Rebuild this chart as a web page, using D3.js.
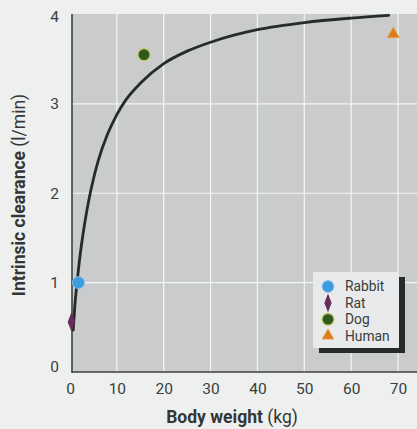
<!DOCTYPE html>
<html><head><meta charset="utf-8">
<script src="https://cdn.jsdelivr.net/npm/d3@7"></script>
<style>
html,body{margin:0;padding:0;background:#eef0ef;}
svg{display:block;}
text{font-family:Roboto,"Liberation Sans",Arial,sans-serif;}
</style></head>
<body>
<script>
const xTicks = [0,10,20,30,40,50,60,70];
const yTicks = [0,1,2,3,4];
const species = ["Rabbit","Rat","Dog","Human"];
const weightKg = [1.8, 0.3, 15.8, 69];
const clearance = [1.0, 0.56, 3.55, 3.78];
const fitWeight = [0.7,1,1.5,2,3,4,5,6,8,10,12,15,20,25,30,40,50,60,68];
const fitClear  = [0.47,0.72,1.0,1.24,1.62,1.92,2.16,2.36,2.66,2.88,3.05,3.23,3.45,3.59,3.69,3.83,3.91,3.96,3.99];
const colors = ["#3d9be0","#6a2a5c","#2e5a20","#d97b1e"];

const W=417,H=429;
const svg=d3.select("body").append("svg").attr("width",W).attr("height",H);
const x=d3.scaleLinear().domain([0,70]).range([70,398]);
const y=d3.scaleLinear().domain([0,4]).range([372,14.5]);
const pL=72, pR=W+5, pT=14, pB=372;

svg.append("rect").attr("x",pL).attr("y",pT).attr("width",pR-pL).attr("height",pB-pT).attr("fill","#c9cbcc");

// grid
svg.append("g").selectAll("line").data(xTicks.filter(d=>d>0)).join("line")
 .attr("x1",d=>x(d)).attr("x2",d=>x(d)).attr("y1",pT).attr("y2",pB)
 .attr("stroke","#f4f5f5").attr("stroke-width",1.2);
svg.append("g").selectAll("line").data(yTicks.filter(d=>d>0&&d<4)).join("line")
 .attr("y1",d=>y(d)).attr("y2",d=>y(d)).attr("x1",pL).attr("x2",pR)
 .attr("stroke","#f4f5f5").attr("stroke-width",1.2);

// axes
const xAxis=svg.append("g").attr("transform",`translate(0,${pB})`)
 .call(d3.axisBottom(x).tickValues(xTicks).tickFormat(d3.format("d")).tickSize(0).tickPadding(9));
xAxis.select(".domain").remove();
xAxis.selectAll("text").attr("font-size",15.5).attr("fill","#3a3d3c").attr("dy","0.85em");
const yAxis=svg.append("g").attr("transform",`translate(${pL},0)`)
 .call(d3.axisLeft(y).tickValues(yTicks).tickFormat(d3.format("d")).tickSize(0).tickPadding(13));
yAxis.select(".domain").remove();
yAxis.selectAll("text").attr("font-size",15.5).attr("fill","#3a3d3c");
yAxis.selectAll(".tick").filter(d=>d===4).select("text").attr("dy","0.45em");
yAxis.selectAll(".tick").filter(d=>d===0).select("text").attr("dy","-0.05em");

svg.append("line").attr("x1",pL).attr("x2",pL).attr("y1",pT).attr("y2",pB+1)
 .attr("stroke","#3d403f").attr("stroke-width",1.6);
svg.append("line").attr("x1",pL).attr("x2",pR).attr("y1",pB).attr("y2",pB)
 .attr("stroke","#3d403f").attr("stroke-width",1.6);

// fitted curve
const fit=fitWeight.map((w,i)=>[w,fitClear[i]]);
svg.append("path").datum(fit)
 .attr("d",d3.line().x(d=>x(d[0])).y(d=>y(d[1])).curve(d3.curveMonotoneX))
 .attr("fill","none").attr("stroke","#262b27").attr("stroke-width",2.8).attr("stroke-linecap","round");

// markers
function marker(g,i,cx,cy,s){
  const sym=[d3.symbolCircle,d3.symbolDiamond,d3.symbolCircle,d3.symbolTriangle][i];
  const sizes=[115*s,75*s,115*s,60*s];
  const p=g.append("path").attr("d",d3.symbol(sym,sizes[i])()).attr("fill",colors[i])
   .attr("transform",i===1?`translate(${cx},${cy}) scale(0.8,1.2)`:`translate(${cx},${cy})`);
  if(i===2) p.attr("stroke","#c9c860").attr("stroke-width",1.2);
  if(i===0) p.attr("stroke","#8cc4ea").attr("stroke-width",0.8);
  if(i===3) p.attr("stroke","#e3a03a").attr("stroke-width",1);
}
const mg=svg.append("g");
species.forEach((s,i)=>marker(mg,i,x(weightKg[i]),y(clearance[i]),1));

// legend
const lg=svg.append("g");
lg.append("rect").attr("x",319).attr("y",277).attr("width",86).attr("height",76).attr("fill","#262b27");
lg.append("rect").attr("x",313).attr("y",272).attr("width",86).attr("height",76).attr("fill","#e8eaeb");
species.forEach((s,i)=>{
  const cy=286.5+i*16.4;
  marker(lg,i,328,cy,0.95);
  lg.append("text").attr("x",345).attr("y",cy).attr("dy","0.36em").attr("font-size",13.8)
   .attr("fill","#3a3d3c").text(s);
});

// axis titles
const yt=svg.append("text").attr("transform","translate(25,195) rotate(-90)")
 .attr("text-anchor","middle").attr("font-size",17.5).attr("fill","#333635");
yt.append("tspan").attr("font-weight","bold").text("Intrinsic clearance ");
yt.append("tspan").text("(l/min)");
const xt=svg.append("text").attr("x",232).attr("y",423)
 .attr("text-anchor","middle").attr("font-size",17.5).attr("fill","#333635");
xt.append("tspan").attr("font-weight","bold").text("Body weight ");
xt.append("tspan").text("(kg)");
</script>
</body></html>
